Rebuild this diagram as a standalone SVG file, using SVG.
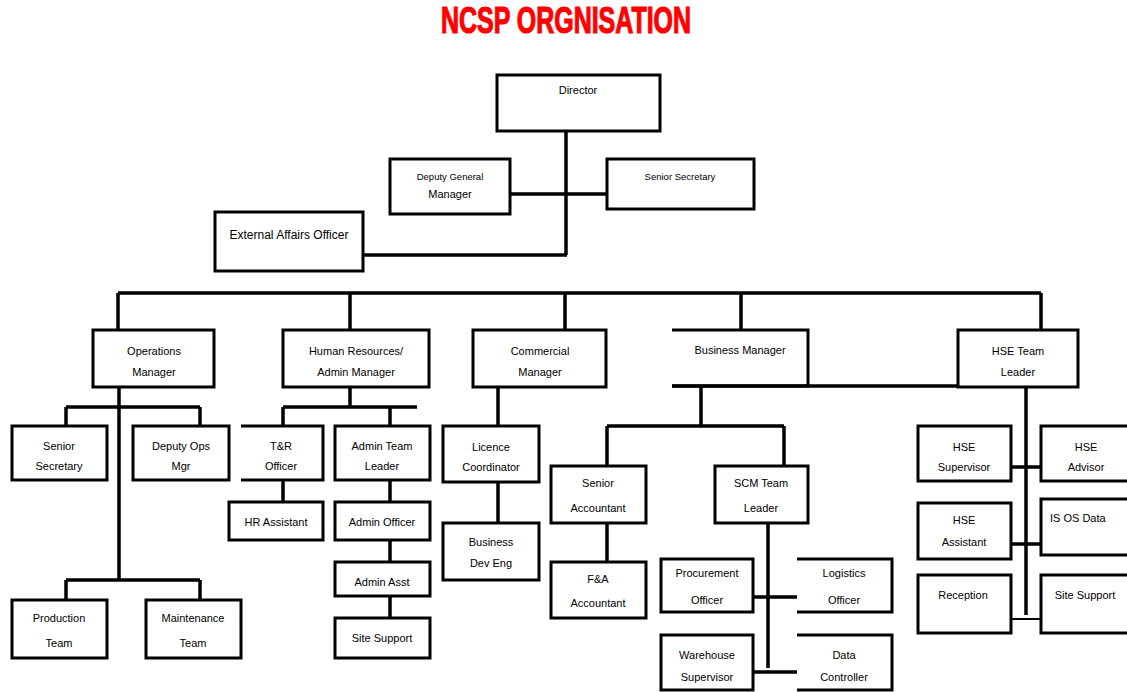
<svg xmlns="http://www.w3.org/2000/svg" width="1127" height="692" viewBox="0 0 1127 692">
<style>
.box{fill:#fff;stroke:#000;stroke-width:3}
.open{fill:none;stroke:#000;stroke-width:3}
.ln{fill:none;stroke:#000;stroke-width:3.5}
.t{font-family:"Liberation Sans",Arial,sans-serif;font-size:11px;text-anchor:middle;fill:#000}
.s{font-size:9.5px}
.title{font-family:"Liberation Sans",Arial,sans-serif;font-size:36px;font-weight:bold;fill:#ff0000;stroke:#ff0000;stroke-width:1.2;text-anchor:middle}
</style>
<rect width="1127" height="692" fill="#fff"/>
<text class="title" x="566" y="33" textLength="250" lengthAdjust="spacingAndGlyphs">NCSP ORGNISATION</text>
<g id="connectors">
<path class="ln" d="M566,131 V255 M510,194 H607 M363,255 H567"/>
<path class="ln" d="M118,293 H1041 M118,293 V330 M350,293 V330 M565,293 V330 M741,293 V330 M1041,293 V330"/>
<path class="ln" d="M119,387 V580 M66,407 H200 M66,407 V426 M200,407 V426 M66,580 H200 M66,580 V600 M200,580 V600"/>
<path class="ln" d="M350,387 V407 M283,407 H417 M283,407 V426 M390,407 V426 M283,480 V502 M390,480 V502 M390,540 V562 M390,596 V618"/>
<path class="ln" d="M498,387 V426 M498,482 V523"/>
<path class="ln" d="M672,386 H958 M701,386 V426 M607,426 H784 M607,426 V466 M784,426 V466 M607,523 V562 M768,523 V668 M753,597 H797 M753,672 H797"/>
<path class="ln" d="M1026,387 V615 M1011,467 H1041 M1011,544 H1041"/>
<path fill="none" stroke="#000" stroke-width="2" d="M1011,619 H1041"/>
</g>
<g id="director"><rect class="box" x="497" y="75" width="163" height="56"/><text class="t" x="578" y="94">Director</text></g>
<g id="dgm"><rect class="box" x="390" y="159" width="120" height="55"/><text class="t s" x="450" y="180">Deputy General</text><text class="t" x="450" y="198">Manager</text></g>
<g id="senior-secretary-top"><rect class="box" x="607" y="159" width="147" height="50"/><text class="t s" x="680" y="180">Senior Secretary</text></g>
<g id="external-affairs"><rect class="box" x="215" y="212" width="148" height="59"/><text class="t" style="font-size:12px" x="289" y="239">External Affairs Officer</text></g>
<g id="operations"><rect class="box" x="93" y="330" width="121" height="57"/><text class="t" x="154" y="355">Operations</text><text class="t" x="154" y="376">Manager</text></g>
<g id="hr"><rect class="box" x="283" y="330" width="146" height="57"/><text class="t" x="356" y="355">Human Resources/</text><text class="t" x="356" y="376">Admin Manager</text></g>
<g id="commercial"><rect class="box" x="473" y="330" width="133" height="57"/><text class="t" x="540" y="355">Commercial</text><text class="t" x="540" y="376">Manager</text></g>
<g id="business"><path class="open" d="M672,330 H808 V386 H672"/><text class="t" x="740" y="354">Business Manager</text></g>
<g id="hse-lead"><rect class="box" x="958" y="330" width="120" height="57"/><text class="t" x="1018" y="355">HSE Team</text><text class="t" x="1018" y="376">Leader</text></g>
<g id="senior-secretary-ops"><rect class="box" x="12" y="426" width="95" height="54"/><text class="t" x="59" y="450">Senior</text><text class="t" x="59" y="470">Secretary</text></g>
<g id="deputy-ops"><rect class="box" x="133" y="426" width="96" height="54"/><text class="t" x="181" y="450">Deputy Ops</text><text class="t" x="181" y="470">Mgr</text></g>
<g id="tr-officer"><path class="open" d="M241,426 H323 V480 H241"/><text class="t" x="281" y="450">T&amp;R</text><text class="t" x="281" y="470">Officer</text></g>
<g id="admin-lead"><rect class="box" x="335" y="426" width="95" height="54"/><text class="t" x="382" y="450">Admin Team</text><text class="t" x="382" y="470">Leader</text></g>
<g id="hr-assistant"><rect class="box" x="229" y="502" width="94" height="38"/><text class="t" x="276" y="526">HR Assistant</text></g>
<g id="admin-officer"><rect class="box" x="335" y="502" width="95" height="38"/><text class="t" x="382" y="526">Admin Officer</text></g>
<g id="admin-asst"><rect class="box" x="335" y="562" width="95" height="34"/><text class="t" x="382" y="586">Admin Asst</text></g>
<g id="site-support-admin"><rect class="box" x="335" y="618" width="95" height="40"/><text class="t" x="382" y="642">Site Support</text></g>
<g id="production"><rect class="box" x="12" y="600" width="95" height="58"/><text class="t" x="59" y="622">Production</text><text class="t" x="59" y="647">Team</text></g>
<g id="maintenance"><rect class="box" x="146" y="600" width="95" height="58"/><text class="t" x="193" y="622">Maintenance</text><text class="t" x="193" y="647">Team</text></g>
<g id="licence"><rect class="box" x="443" y="426" width="96" height="56"/><text class="t" x="491" y="451">Licence</text><text class="t" x="491" y="471">Coordinator</text></g>
<g id="bus-dev"><rect class="box" x="443" y="523" width="96" height="57"/><text class="t" x="491" y="546">Business</text><text class="t" x="491" y="567">Dev Eng</text></g>
<g id="senior-accountant"><rect class="box" x="551" y="466" width="95" height="57"/><text class="t" x="598" y="487">Senior</text><text class="t" x="598" y="512">Accountant</text></g>
<g id="scm-lead"><rect class="box" x="715" y="466" width="93" height="57"/><text class="t" x="761" y="487">SCM Team</text><text class="t" x="761" y="512">Leader</text></g>
<g id="fa-accountant"><rect class="box" x="551" y="562" width="95" height="56"/><text class="t" x="598" y="583">F&amp;A</text><text class="t" x="598" y="607">Accountant</text></g>
<g id="procurement"><rect class="box" x="661" y="559" width="92" height="53"/><text class="t" x="707" y="577">Procurement</text><text class="t" x="707" y="604">Officer</text></g>
<g id="logistics"><path class="open" d="M797,559 H892 V612 H797"/><text class="t" x="844" y="577">Logistics</text><text class="t" x="844" y="604">Officer</text></g>
<g id="warehouse"><rect class="box" x="661" y="635" width="92" height="55"/><text class="t" x="707" y="659">Warehouse</text><text class="t" x="707" y="681">Supervisor</text></g>
<g id="data-controller"><path class="open" d="M797,635 H892 V690 H797"/><text class="t" x="844" y="659">Data</text><text class="t" x="844" y="681">Controller</text></g>
<g id="hse-supervisor"><rect class="box" x="918" y="426" width="93" height="55"/><text class="t" x="964" y="451">HSE</text><text class="t" x="964" y="471">Supervisor</text></g>
<g id="hse-advisor"><rect class="box" x="1041" y="426" width="100" height="55"/><text class="t" x="1086" y="451">HSE</text><text class="t" x="1086" y="471">Advisor</text></g>
<g id="hse-assistant"><rect class="box" x="918" y="503" width="93" height="56"/><text class="t" x="964" y="524">HSE</text><text class="t" x="964" y="546">Assistant</text></g>
<g id="isos-data"><rect class="box" x="1041" y="499" width="100" height="56"/><text class="t" style="text-anchor:start" x="1050" y="522">IS OS Data</text></g>
<g id="reception"><rect class="box" x="918" y="575" width="93" height="58"/><text class="t" x="963" y="599">Reception</text></g>
<g id="site-support-hse"><rect class="box" x="1041" y="575" width="100" height="58"/><text class="t" x="1085" y="599">Site Support</text></g>
</svg>
